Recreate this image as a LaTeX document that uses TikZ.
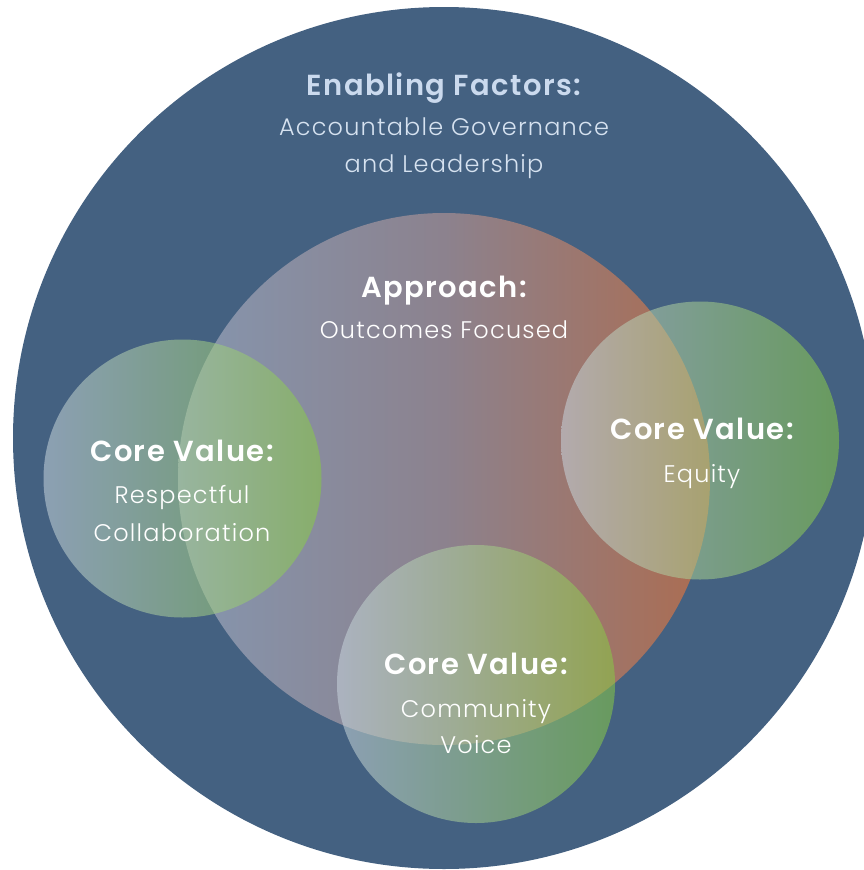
\documentclass[tikz,border=0pt]{standalone}
\usepackage{fontspec}
\setmainfont{Poppins}[UprightFont=* Light, BoldFont=* SemiBold, LetterSpace=5]
\definecolor{bigblue}{RGB}{68,97,129}
\definecolor{titlecol}{RGB}{203,218,238}
\definecolor{subcol}{RGB}{214,226,240}
\definecolor{apL}{RGB}{133,150,175}
\definecolor{apM}{RGB}{140,130,142}
\definecolor{apR}{RGB}{172,108,80}
\definecolor{cvL}{RGB}{200,212,222}
\definecolor{cvR}{RGB}{135,202,67}
\tikzset{
  boldlbl/.style={anchor=base, inner sep=0pt, font=\fontsize{29}{32}\selectfont\bfseries},
  lightlbl/.style={anchor=base, inner sep=0pt, font=\fontsize{24}{27}\selectfont},
  valuecircle/.style={left color=cvL, right color=cvR, opacity=0.55},
}
\begin{document}
\begin{tikzpicture}[x=1pt,y=-1pt]
\useasboundingbox (0,0) rectangle (864,870);
\begin{scope}
  \clip (0,0) rectangle (864,870);
  \fill[bigblue] (444,438) circle (431);
\end{scope}
\shade[left color=apL, right color=apR, middle color=apM] (444,479) circle (266);
\shade[valuecircle] (182.5,478.5) circle (139);
\shade[valuecircle] (700,440.5) circle (139);
\shade[valuecircle] (476,684) circle (139);

\node[boldlbl, text=titlecol] (ef) at (444,95) {Enabling Factors:};
\node[lightlbl, text=subcol] (ef1) at (444,135) {Accountable Governance};
\node[lightlbl, text=subcol] (ef2) at (444,172) {and Leadership};

\node[boldlbl, text=white] (ap) at (444,297) {Approach:};
\node[lightlbl, text=white] (ap1) at (444,338) {Outcomes Focused};

\node[boldlbl, text=white] (cl) at (182,461) {Core Value:};
\node[lightlbl, text=white] (cl1) at (182,503) {Respectful};
\node[lightlbl, text=white] (cl2) at (182,541) {Collaboration};

\node[boldlbl, text=white] (cr) at (702,439) {Core Value:};
\node[lightlbl, text=white] (cr1) at (702,482) {Equity};

\node[boldlbl, text=white] (cb) at (476,674) {Core Value:};
\node[lightlbl, text=white] (cb1) at (476,717) {Community};
\node[lightlbl, text=white] (cb2) at (476,753) {Voice};
\end{tikzpicture}
\end{document}
